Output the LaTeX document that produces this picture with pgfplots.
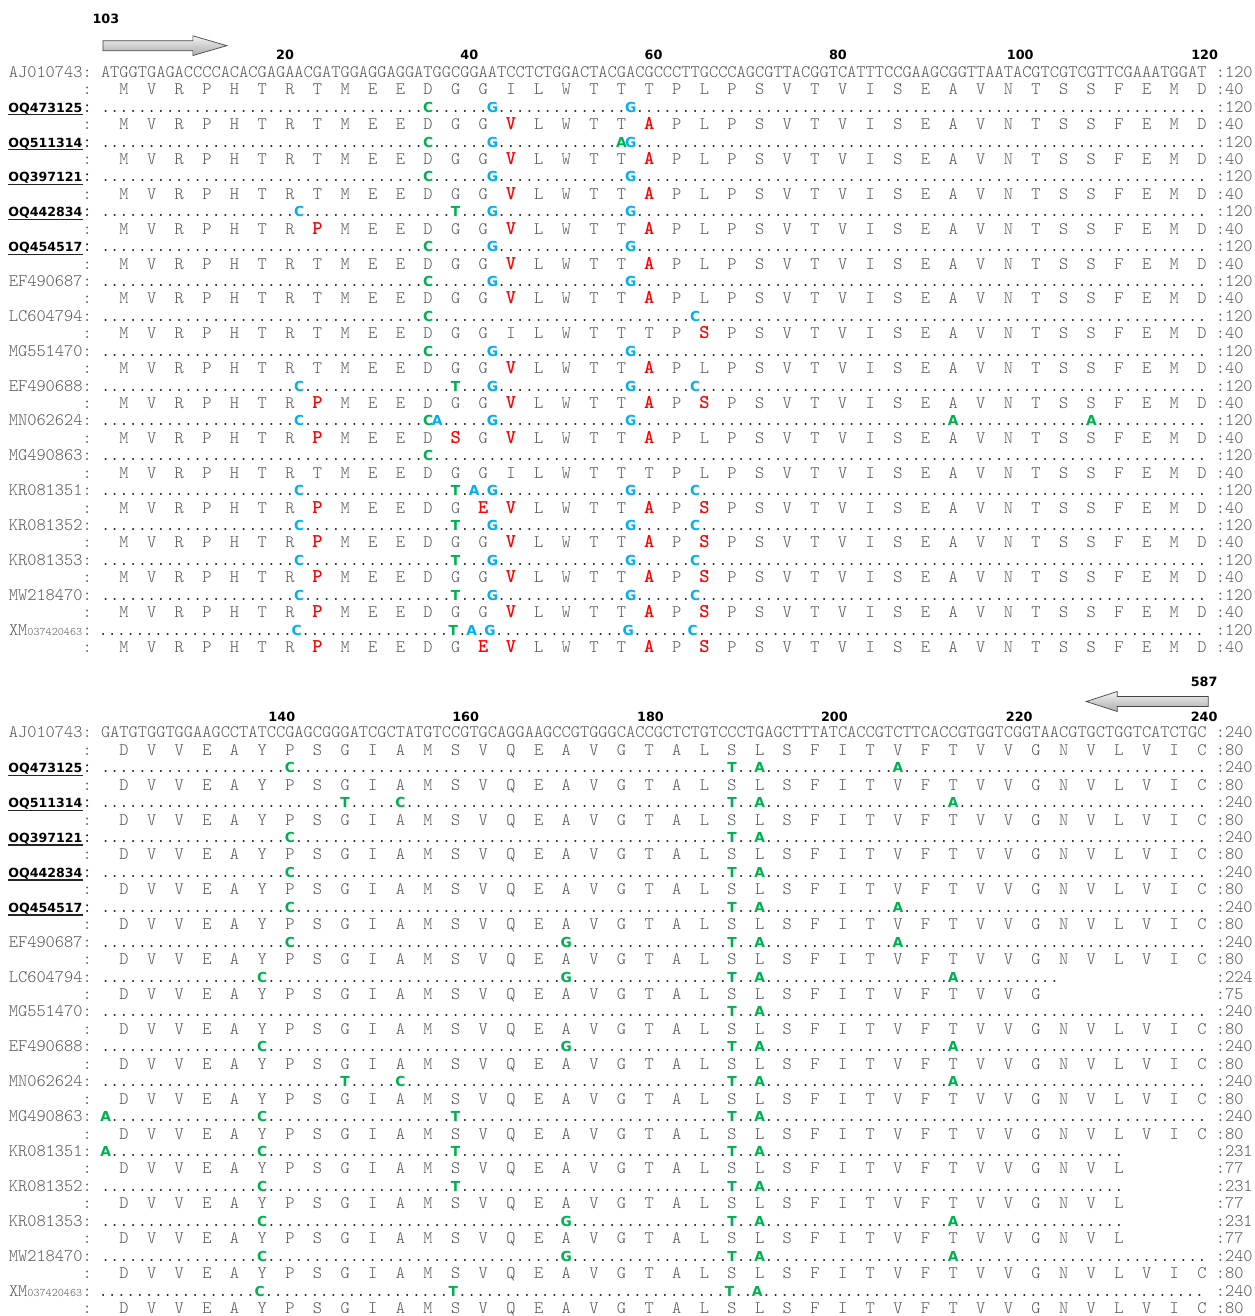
\documentclass[border=0pt]{standalone}
\usepackage{pgfplots}
\pgfplotsset{compat=1.18}
\usetikzlibrary{shadings}
\usepackage{fontspec}
\newfontfamily\dvs{DejaVu Sans}
\definecolor{mgreen}{RGB}{0,176,80}
\definecolor{mblue}{RGB}{0,176,240}
\definecolor{mred}{RGB}{255,0,0}
\definecolor{sgray}{RGB}{85,85,85}
\definecolor{dotc}{RGB}{20,20,20}
\newlength\cw
\newlength\dw
\def\sqdsize{17.56pt}
\newcommand\sq{\fontfamily{lmtt}\fontseries{l}\fontshape{n}\fontsize{17.56}{20}\selectfont}
\newcommand\sqd{\fontfamily{lmtt}\fontseries{m}\fontshape{n}\fontsize{\sqdsize}{20}\selectfont}
\newcommand\mbf{\fontfamily{lmtt}\fontseries{b}\fontsize{19.5}{20}\selectfont}
\newcommand\nmbf{\dvs\bfseries\fontsize{13.8}{14}\selectfont}
\newcommand\lbf{\dvs\bfseries\fontsize{12.6}{14}\selectfont}
\newcommand\nbf{\dvs\bfseries\fontsize{12.8}{14}\selectfont}
\newcommand\G[1]{\hbox to\cw{\hss\textcolor{mgreen}{\nmbf #1}\hss}}
\newcommand\B[1]{\hbox to\cw{\hss\textcolor{mblue}{\nmbf #1}\hss}}
\newcommand\Rd{\color{mred}\mbf}
\ExplSyntaxOn
\cs_new:Npn \Dt #1 { \prg_replicate:nn {#1} {.} }
\ExplSyntaxOff
\makeatletter
\def\prot@end{PROTEND}
\def\prot#1{\expandafter\prot@#1\prot@end}
\def\prot@#1{\ifx\prot@end#1\else\hbox to 3\cw{\hss\hbox to\cw{\hss#1\hss}}\expandafter\prot@\fi}
\makeatother
% protein variants, block 1
\def\pA{MVRPHTRTMEEDGGILWTTTPLPSVTVISEAVNTSSFEMD}
\def\pVA{MVRPHTRTMEEDGG{\Rd V}LWTT{\Rd A}PLPSVTVISEAVNTSSFEMD}
\def\pPVA{MVRPHTR{\Rd P}MEEDGG{\Rd V}LWTT{\Rd A}PLPSVTVISEAVNTSSFEMD}
\def\pS{MVRPHTRTMEEDGGILWTTTP{\Rd S}PSVTVISEAVNTSSFEMD}
\def\pPVAS{MVRPHTR{\Rd P}MEEDGG{\Rd V}LWTT{\Rd A}P{\Rd S}PSVTVISEAVNTSSFEMD}
\def\pPSVA{MVRPHTR{\Rd P}MEED{\Rd S}G{\Rd V}LWTT{\Rd A}PLPSVTVISEAVNTSSFEMD}
\def\pPEVAS{MVRPHTR{\Rd P}MEEDG{\Rd E}{\Rd V}LWTT{\Rd A}P{\Rd S}PSVTVISEAVNTSSFEMD}
% block 2
\def\qA{DVVEAYPSGIAMSVQEAVGTALSLSFITVFTVVGNVLVIC}
\def\qLC{DVVEAYPSGIAMSVQEAVGTALSLSFITVFTVVG}
\def\qKR{DVVEAYPSGIAMSVQEAVGTALSLSFITVFTVVGNVL}
% nucleotide rows, block 1
\def\nA{\Dt{35}\G C\Dt{6}\B G\Dt{14}\B G\Dt{62}}
\def\nB{\Dt{35}\G C\Dt{6}\B G\Dt{13}\G A\B G\Dt{62}}
\def\nC{\Dt{21}\B C\Dt{16}\G T\Dt{3}\B G\Dt{14}\B G\Dt{62}}
\def\nLC{\Dt{35}\G C\Dt{28}\B C\Dt{55}}
\def\nE{\Dt{21}\B C\Dt{16}\G T\Dt{3}\B G\Dt{14}\B G\Dt{6}\B C\Dt{55}}
\def\nMN{\Dt{21}\B C\Dt{13}\G C\B A\Dt{5}\B G\Dt{14}\B G\Dt{34}\G A\Dt{14}\G A\Dt{12}}
\def\nMG{\Dt{35}\G C\Dt{84}}
\def\nK{\Dt{21}\B C\Dt{16}\G T\Dt{1}\B A\Dt{1}\B G\Dt{14}\B G\Dt{6}\B C\Dt{55}}
% nucleotide rows, block 2
\def\mA{\Dt{20}\G C\Dt{47}\G T\Dt{2}\G A\Dt{14}\G A\Dt{33}}
\def\mB{\Dt{26}\G T\Dt{5}\G C\Dt{35}\G T\Dt{2}\G A\Dt{20}\G A\Dt{27}}
\def\mC{\Dt{20}\G C\Dt{47}\G T\Dt{2}\G A\Dt{48}}
\def\mD{\Dt{20}\G C\Dt{29}\G G\Dt{17}\G T\Dt{2}\G A\Dt{14}\G A\Dt{33}}
\def\mLC{\Dt{17}\G C\Dt{32}\G G\Dt{17}\G T\Dt{2}\G A\Dt{20}\G A\Dt{11}}
\def\mMG{\Dt{68}\G T\Dt{2}\G A\Dt{48}}
\def\mE{\Dt{17}\G C\Dt{32}\G G\Dt{17}\G T\Dt{2}\G A\Dt{20}\G A\Dt{27}}
\def\mF{\G A\Dt{16}\G C\Dt{20}\G T\Dt{29}\G T\Dt{2}\G A\Dt{48}}
\def\mK{\G A\Dt{16}\G C\Dt{20}\G T\Dt{29}\G T\Dt{2}\G A\Dt{39}}
\def\mKb{\Dt{17}\G C\Dt{20}\G T\Dt{29}\G T\Dt{2}\G A\Dt{39}}
\def\mKc{\Dt{17}\G C\Dt{32}\G G\Dt{17}\G T\Dt{2}\G A\Dt{20}\G A\Dt{18}}
\def\mX{\Dt{17}\G C\Dt{20}\G T\Dt{29}\G T\Dt{2}\G A\Dt{48}}
% row macros
\newcommand\Lrow[4]{%
\node[anchor=base west,inner sep=0pt,text=sgray,font=\sq] at (axis cs:8.69,{#1+5.4}) {#2};
\node[anchor=base west,inner sep=0pt,text=dotc,font=\sqd] at (axis cs:100.89,{#1+5.4}) {#3};
\node[anchor=base west,inner sep=0pt,text=sgray,font=\sq] at (axis cs:1216.5,{#1+5.4}) {#4};}
\newcommand\Brow[4]{%
\node[anchor=base east,inner sep=0pt,font=\lbf] (L) at (axis cs:82.6,{#1+5.4}) {#2};
\draw[line width=1.4pt,black!85] ([yshift=-2.6pt]L.base west) -- ([yshift=-2.6pt]L.base east);
\node[anchor=base west,inner sep=0pt,text=dotc,font=\sqd] at (axis cs:82.47,{#1+5.4}) {:};
\node[anchor=base west,inner sep=0pt,text=dotc,font=\sqd] at (axis cs:100.89,{#1+5.4}) {#3};
\node[anchor=base west,inner sep=0pt,text=sgray,font=\sq] at (axis cs:1216.5,{#1+5.4}) {#4};}
\newcommand\Xrow[3]{%
\node[anchor=base east,inner sep=0pt,text=sgray,font=\sq] at (axis cs:82.47,{#1+5.4}) {XM{\fontsize{11.6}{12}\selectfont 037420463}};
\node[anchor=base west,inner sep=0pt,text=sgray,font=\sq] at (axis cs:82.47,{#1+5.4}) {:};
\node[anchor=base west,inner sep=0pt,text=dotc,font=\sqd] at (axis cs:98.4,{#1+5.4}) {#2};
\node[anchor=base west,inner sep=0pt,text=sgray,font=\sq] at (axis cs:1216.5,{#1+5.4}) {#3};}
\newcommand\Prow[3]{%
\node[anchor=base west,inner sep=0pt,text=sgray,font=\sq] at (axis cs:82.47,{#1+5.4}) {:};
\node[anchor=base west,inner sep=0pt,text=sgray,font=\sq] at (axis cs:100.89,{#1+5.4}) {\prot{#2}};
\node[anchor=base west,inner sep=0pt,text=sgray,font=\sq] at (axis cs:1216.5,{#1+5.4}) {#3};}
\begin{document}
\settowidth\cw{\sq .}%
\settowidth\dw{\sqd .}%
\edef\sqdsize{\the\dimexpr 17.56pt*\cw/\dw\relax}%
\begin{tikzpicture}
\begin{axis}[width=1255pt,height=1316pt,scale only axis,
  xmin=0,xmax=1255,ymin=0,ymax=1316,y dir=reverse,hide axis,clip=false]
\addplot[draw=none,mark=none] coordinates {(0,0) (1255,1316)};
\path[draw=none] (axis cs:0,0) rectangle (axis cs:1255,1316);
% ---------- block 1 header
\node[font=\nbf] at (axis cs:106,19) {103};
\path[draw=gray!55!black,line width=0.7pt,top color=gray!10,bottom color=gray!65]
  (axis cs:103,40.7) -- (axis cs:193,40.7) -- (axis cs:193,35.8) -- (axis cs:227,45.7)
  -- (axis cs:193,55.6) -- (axis cs:193,50.7) -- (axis cs:103,50.7) -- cycle;
\node[font=\nbf] at (axis cs:285.3,55) {20};
\node[font=\nbf] at (axis cs:469.7,55) {40};
\node[font=\nbf] at (axis cs:654.1,55) {60};
\node[font=\nbf] at (axis cs:838.5,55) {80};
\node[font=\nbf] at (axis cs:1021,55) {100};
\node[font=\nbf] at (axis cs:1205.5,55) {120};
% ---------- block 1 rows
\Lrow{72}{AJ010743:}{{\sq\color{sgray}ATGGTGAGACCCCACACGAGAACGATGGAGGAGGATGGCGGAATCCTCTGGACTACGACGCCCTTGCCCAGCGTTACGGTCATTTCCGAAGCGGTTAATACGTCGTCGTTCGAAATGGAT}}{:120}
\Prow{72+17.44*1}{\pA}{:40}
\Brow{72+17.44*2}{OQ473125}{\nA}{:120}
\Prow{72+17.44*3}{\pVA}{:40}
\Brow{72+17.44*4}{OQ511314}{\nB}{:120}
\Prow{72+17.44*5}{\pVA}{:40}
\Brow{72+17.44*6}{OQ397121}{\nA}{:120}
\Prow{72+17.44*7}{\pVA}{:40}
\Brow{72+17.44*8}{OQ442834}{\nC}{:120}
\Prow{72+17.44*9}{\pPVA}{:40}
\Brow{72+17.44*10}{OQ454517}{\nA}{:120}
\Prow{72+17.44*11}{\pVA}{:40}
\Lrow{72+17.44*12}{EF490687:}{\nA}{:120}
\Prow{72+17.44*13}{\pVA}{:40}
\Lrow{72+17.44*14}{LC604794:}{\nLC}{:120}
\Prow{72+17.44*15}{\pS}{:40}
\Lrow{72+17.44*16}{MG551470:}{\nA}{:120}
\Prow{72+17.44*17}{\pVA}{:40}
\Lrow{72+17.44*18}{EF490688:}{\nE}{:120}
\Prow{72+17.44*19}{\pPVAS}{:40}
\Lrow{72+17.44*20}{MN062624:}{\nMN}{:120}
\Prow{72+17.44*21}{\pPSVA}{:40}
\Lrow{72+17.44*22}{MG490863:}{\nMG}{:120}
\Prow{72+17.44*23}{\pA}{:40}
\Lrow{72+17.44*24}{KR081351:}{\nK}{:120}
\Prow{72+17.44*25}{\pPEVAS}{:40}
\Lrow{72+17.44*26}{KR081352:}{\nE}{:120}
\Prow{72+17.44*27}{\pPVAS}{:40}
\Lrow{72+17.44*28}{KR081353:}{\nE}{:120}
\Prow{72+17.44*29}{\pPVAS}{:40}
\Lrow{72+17.44*30}{MW218470:}{\nE}{:120}
\Prow{72+17.44*31}{\pPVAS}{:40}
\Xrow{72+17.44*32}{\nK}{:120}
\Prow{72+17.44*33}{\pPEVAS}{:40}
% ---------- block 2 header
\node[font=\nbf] at (axis cs:1205,682) {587};
\path[draw=gray!55!black,line width=0.7pt,top color=gray!10,bottom color=gray!65]
  (axis cs:1209,697) -- (axis cs:1118,697) -- (axis cs:1118,692) -- (axis cs:1087,702)
  -- (axis cs:1118,712) -- (axis cs:1118,707) -- (axis cs:1209,707) -- cycle;
\node[font=\nbf] at (axis cs:282,717) {140};
\node[font=\nbf] at (axis cs:466,717) {160};
\node[font=\nbf] at (axis cs:651,717) {180};
\node[font=\nbf] at (axis cs:835,717) {200};
\node[font=\nbf] at (axis cs:1020,717) {220};
\node[font=\nbf] at (axis cs:1205,717) {240};
% ---------- block 2 rows
\Lrow{733}{AJ010743:}{{\sq\color{sgray}GATGTGGTGGAAGCCTATCCGAGCGGGATCGCTATGTCCGTGCAGGAAGCCGTGGGCACCGCTCTGTCCCTGAGCTTTATCACCGTCTTCACCGTGGTCGGTAACGTGCTGGTCATCTGC}}{:240}
\Prow{733+17.455*1}{\qA}{:80}
\Brow{733+17.455*2}{OQ473125}{\mA}{:240}
\Prow{733+17.455*3}{\qA}{:80}
\Brow{733+17.455*4}{OQ511314}{\mB}{:240}
\Prow{733+17.455*5}{\qA}{:80}
\Brow{733+17.455*6}{OQ397121}{\mC}{:240}
\Prow{733+17.455*7}{\qA}{:80}
\Brow{733+17.455*8}{OQ442834}{\mC}{:240}
\Prow{733+17.455*9}{\qA}{:80}
\Brow{733+17.455*10}{OQ454517}{\mA}{:240}
\Prow{733+17.455*11}{\qA}{:80}
\Lrow{733+17.455*12}{EF490687:}{\mD}{:240}
\Prow{733+17.455*13}{\qA}{:80}
\Lrow{733+17.455*14}{LC604794:}{\mLC}{:224}
\Prow{733+17.455*15}{\qLC}{:75}
\Lrow{733+17.455*16}{MG551470:}{\mMG}{:240}
\Prow{733+17.455*17}{\qA}{:80}
\Lrow{733+17.455*18}{EF490688:}{\mE}{:240}
\Prow{733+17.455*19}{\qA}{:80}
\Lrow{733+17.455*20}{MN062624:}{\mB}{:240}
\Prow{733+17.455*21}{\qA}{:80}
\Lrow{733+17.455*22}{MG490863:}{\mF}{:240}
\Prow{733+17.455*23}{\qA}{:80}
\Lrow{733+17.455*24}{KR081351:}{\mK}{:231}
\Prow{733+17.455*25}{\qKR}{:77}
\Lrow{733+17.455*26}{KR081352:}{\mKb}{:231}
\Prow{733+17.455*27}{\qKR}{:77}
\Lrow{733+17.455*28}{KR081353:}{\mKc}{:231}
\Prow{733+17.455*29}{\qKR}{:77}
\Lrow{733+17.455*30}{MW218470:}{\mE}{:240}
\Prow{733+17.455*31}{\qA}{:80}
\Xrow{733+17.455*32}{\mX}{:240}
\Prow{733+17.455*33}{\qA}{:80}
\end{axis}
\end{tikzpicture}
\end{document}
